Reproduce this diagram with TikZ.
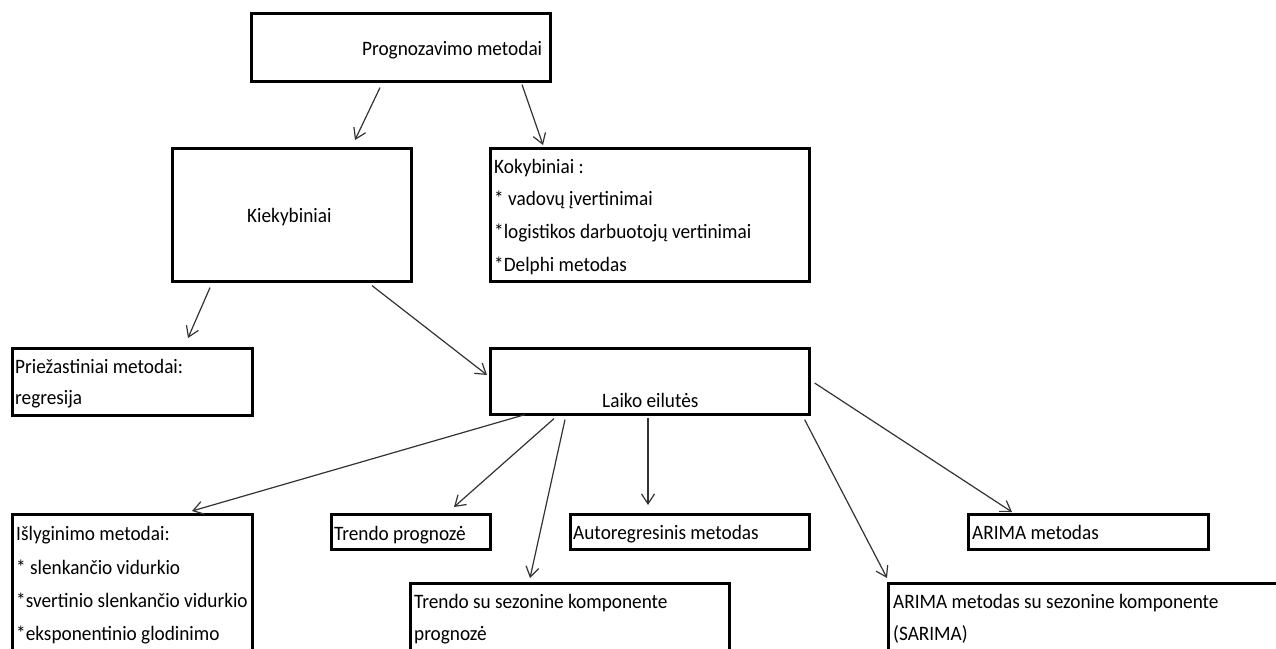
\documentclass[tikz,border=0pt]{standalone}
\usepackage{fontspec}
\setmainfont{Carlito}[FakeStretch=0.94]
\usetikzlibrary{arrows.meta,calc}
\tikzset{
  box/.style={draw=black, line width=2.6pt, anchor=north west, inner sep=0pt, fill=none},
  txt/.style={anchor=base west, inner sep=0pt, font=\fontsize{20.5}{32.7}\selectfont, text=black},
  arr/.style={draw=black!80, line width=1.2pt, -{Straight Barb[length=10pt,width=13pt,line width=1.2pt]}},
}
\begin{document}
\begin{tikzpicture}[x=1pt,y=-1pt]
\useasboundingbox (0,0) rectangle (1276,648);
\clip (0,0) rectangle (1276,648);
\fill[white] (0,0) rectangle (1276,648);
% boxes
\node[box, minimum width=299pt, minimum height=68pt] (top) at (250,12) {};
\node[box, minimum width=239pt, minimum height=133pt] (kiek) at (171,147) {};
\node[box, minimum width=319pt, minimum height=133pt] (koky) at (489,147) {};
\node[box, minimum width=240pt, minimum height=67pt] (prie) at (11,347) {};
\node[box, minimum width=319pt, minimum height=66pt] (laiko) at (489,347) {};
\node[box, minimum width=240pt, minimum height=170pt] (isl) at (11,513) {};
\node[box, minimum width=159pt, minimum height=35pt] (trend) at (330,513) {};
\node[box, minimum width=239pt, minimum height=35pt] (auto) at (569,513) {};
\node[box, minimum width=240pt, minimum height=35pt] (arima) at (967,513) {};
\node[box, minimum width=319pt, minimum height=100pt] (trsez) at (409,582) {};
\node[box, minimum width=420pt, minimum height=100pt] (sarima) at (887,582) {};
% texts
\node[txt] (ttop) at (362,55) {Prognozavimo metodai};
\node[txt] (tkiek) at (247,222) {Kiekybiniai};
\node[txt] (tk1) at (494,173) {Kokybiniai :};
\node[txt] (tk2) at (494,205) {* vadovų įvertinimai};
\node[txt] (tk3) at (494,238) {*logistikos darbuotojų vertinimai};
\node[txt] (tk4) at (494,271) {*Delphi metodas};
\node[txt] (tp1) at (15,373) {Priežastiniai metodai:};
\node[txt] (tp2) at (15,404) {regresija};
\node[txt] (tl) at (602,407) {Laiko eilutės};
\node[txt] (ti1) at (16,540) {Išlyginimo metodai:};
\node[txt] (ti2) at (16,574) {* slenkančio vidurkio};
\node[txt] (ti3) at (16,607) {*svertinio slenkančio vidurkio};
\node[txt] (ti4) at (16,640) {*eksponentinio glodinimo};
\node[txt] (ttr) at (334,540) {Trendo prognozė};
\node[txt] (tau) at (573,539) {Autoregresinis metodas};
\node[txt] (tar) at (972,539) {ARIMA metodas};
\node[txt] (ts1) at (414,608) {Trendo su sezonine komponente};
\node[txt] (ts2) at (414,640) {prognozė};
\node[txt] (tsa1) at (893,608) {ARIMA metodas su sezonine komponente};
\node[txt] (tsa2) at (893,640) {(SARIMA)};
% connectors
\draw[arr] ($(top.south west)+(130,5)$) -- ($(kiek.north west)+(184,-7)$);
\draw[arr] ($(top.south west)+(272,2)$) -- ($(koky.north west)+(54,-2)$);
\draw[arr] ($(kiek.south west)+(39,5)$) -- ($(prie.north west)+(177,-9)$);
\draw[arr] ($(kiek.south west)+(201,3)$) -- ($(laiko.north west)+(-2,28)$);
\draw[arr] ($(laiko.south west)+(36,-1)$) -- ($(isl.north west)+(181,-2)$);
\draw[arr] ($(laiko.south west)+(65,3)$) -- ($(trend.north west)+(124,-6)$);
\draw[arr] ($(laiko.south west)+(76,4)$) -- ($(trsez.north west)+(121,-4)$);
\draw[arr] ($(laiko.south west)+(159,2)$) -- ($(auto.north west)+(79,-8)$);
\draw[arr] ($(laiko.north east)+(4,36)$) -- ($(arima.north west)+(45,-1)$);
\draw[arr] ($(laiko.south east)+(-6,4)$) -- ($(sarima.north west)+(0,-4)$);
\end{tikzpicture}
\end{document}
